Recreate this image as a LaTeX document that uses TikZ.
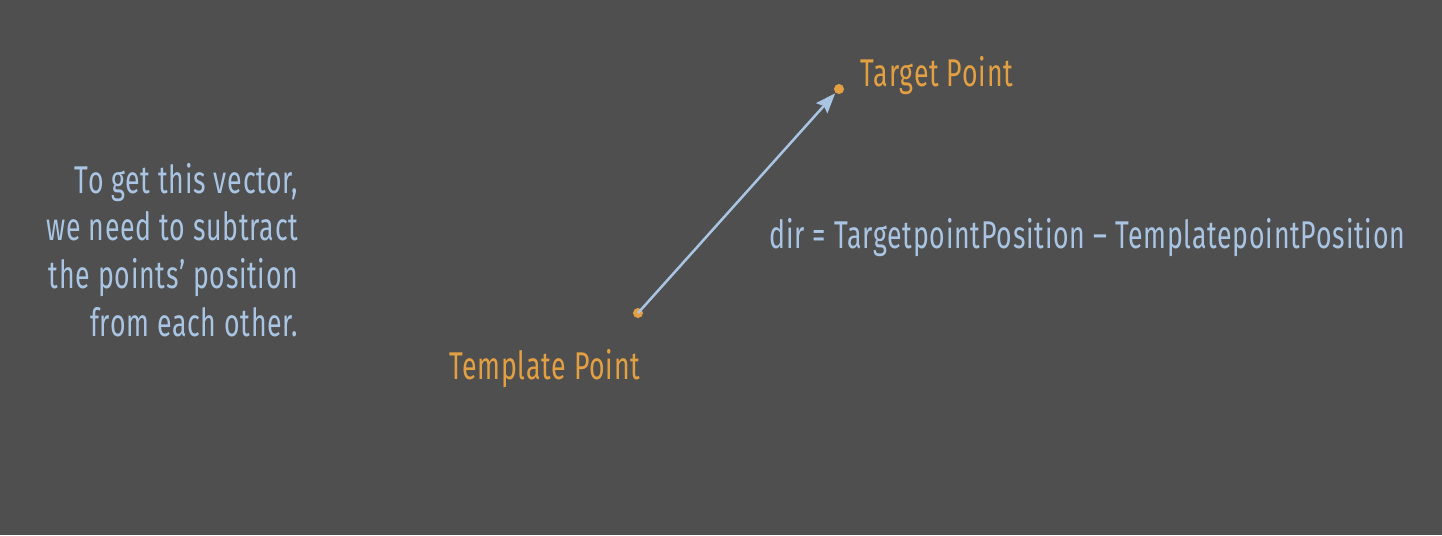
\documentclass[tikz,border=0pt]{standalone}
\usepackage{fontspec}
\setmainfont{Fira Sans}[FakeStretch=0.69,LetterSpace=2]
\usepackage{xcolor}
\usetikzlibrary{arrows.meta}
\definecolor{figbg}{HTML}{4F4F4F}
\definecolor{figorange}{HTML}{E3A042}
\definecolor{figblue}{HTML}{A9C5E3}
\tikzset{every picture/.append style={font=\fontsize{11}{13.6}\selectfont}}
\tikzset{
  pt/.style={circle,fill=figorange,inner sep=0pt,minimum size=0.1cm},
  ptlabel/.style={text=figorange,inner sep=0pt},
  note/.style={text=figblue,inner sep=0pt}
}

\begin{document}
\begin{tikzpicture}[x=0.01cm,y=-0.01cm]
    \fill[figbg] (0,0) rectangle (1442,535);
    \useasboundingbox (0,0) rectangle (1442,535);
    % the two points
    \node[pt] (tmpl) at (638,313) {};
    \node[pt] (tgt) at (839,89) {};
    \node[ptlabel,anchor=west] (tgtlabel) at (860,76) {Target Point};
    \node[ptlabel,anchor=east] (tmpllabel) at (641,369) {Template Point};
    \draw[figblue,line width=0.025cm,-{Stealth[length=0.2cm,width=0.15cm,inset=0.03cm]}] (tmpl.center) -- (tgt);
    % explanation
    \node[note,anchor=east,align=right] (expl) at (299,250)
      {To get this vector,\\we need to subtract\\the points’ position\\from each other.};
    \node[note,anchor=west] (formula) at (769,238) {dir = TargetpointPosition -- TemplatepointPosition};
\end{tikzpicture}
\end{document}
